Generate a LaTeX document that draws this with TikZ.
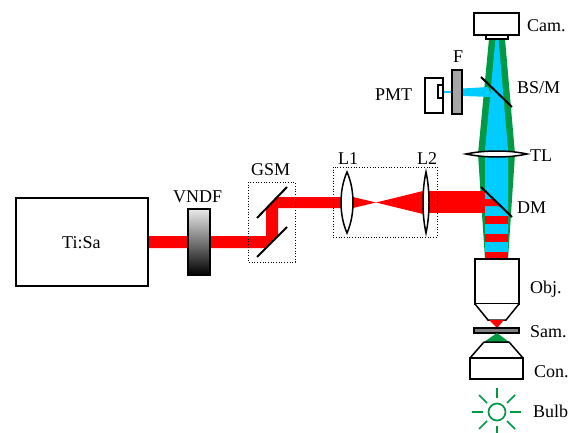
\documentclass[tikz,border=0pt]{standalone}
\usepackage{fontspec}
\setmainfont{Liberation Serif}
\definecolor{bgreen}{RGB}{0,153,68}
\definecolor{bblue}{RGB}{0,204,255}
\tikzset{
  lbl/.style={anchor=base west,inner sep=0pt,font=\fontsize{18}{18}\selectfont,text=black},
  part/.style={draw=black,line width=1.5pt,fill=white},
  mirror/.style={draw=black,line width=2pt},
  frame/.style={draw=black,line width=0.7pt,dotted},
  ray/.style={draw=bgreen,line width=1.7pt}
}
\begin{document}
\begin{tikzpicture}[x=1pt,y=-1pt]
\useasboundingbox (0,0) rectangle (575,433);
% beams
\fill[bgreen] (489,39) -- (505,39) -- (515,154) -- (508,259) -- (485,259) -- (478,154) -- cycle;
\fill[bblue] (495.5,39) -- (498.5,39) -- (508,150) -- (508,259) -- (485,259) -- (485,150) -- cycle;
\fill[bblue] (462,88.5) -- (488,87) -- (492,97) -- (462,96) -- cycle;
\fill[bblue] (443,91) rectangle (452,93);
\fill[red] (148,236) -- (266,236) -- (266,209) -- (278,197) -- (341,197) -- (341,208) -- (278,208) -- (278,236) -- (266,248) -- (148,248) -- cycle;
\fill[red] (353,197) -- (376,202.5) -- (423,191) -- (423,214) -- (376,202.5) -- (353,208) -- cycle;
\fill[red] (429,191) rectangle (485,213);
\fill[red] (485,199) -- (493,199) -- (500,206) -- (485,206) -- cycle;
\fill[red] (485,216) rectangle (508,224);
\fill[red] (485,234) rectangle (508,242);
\fill[red] (485,252) rectangle (508,259);
% frames
\draw[frame] (248,182) rectangle (295,262);
\draw[frame] (333,167) rectangle (437,237);
% laser and filter
\draw[part] (16,198) rectangle (148,286);
\shade[top color=black!8,bottom color=black] (188,209) rectangle (210,275);
\draw[black,line width=1.3pt] (188,209) rectangle (210,275);
% mirrors
\coordinate (gmA) at (257,257); \coordinate (gmB) at (287,227);
\coordinate (gmC) at (257,218); \coordinate (gmD) at (287,187);
\coordinate (dmA) at (481,187); \coordinate (dmB) at (512,217);
\coordinate (bsA) at (481,77);  \coordinate (bsB) at (512,107);
\draw[mirror] (gmA) -- (gmB);
\draw[mirror] (gmC) -- (gmD);
\draw[mirror] (dmA) -- (dmB);
\draw[mirror] (bsA) -- (bsB);
% lenses
\draw[part] (347,172) .. controls (339,190) and (339,215) .. (347,233) .. controls (355,215) and (355,190) .. (347,172) -- cycle;
\draw[part] (426,172) .. controls (422,190) and (422,215) .. (426,233) .. controls (430,215) and (430,190) .. (426,172) -- cycle;
\draw[part] (466,154) .. controls (485,150) and (509,150) .. (527,154) .. controls (509,158) and (485,158) .. (466,154) -- cycle;
% camera, filter, PMT
\draw[part] (474,13) rectangle (519,35);
\draw[part] (486,35) rectangle (508,39);
\draw[part,fill=black!35] (452,70) rectangle (462,114);
\draw[part] (425,78) rectangle (443,113);
\draw[part] (438,85) rectangle (443,98);
% objective
\draw[part] (475,259) rectangle (519,304);
\draw[part] (475,304) -- (488,320) -- (506,320) -- (519,304);
\fill[red] (489,320) -- (504,320) -- (497,328) -- cycle;
% sample
\draw[black,line width=1.2pt,fill=black!50] (474,328) rectangle (519,333);
% condenser
\fill[bgreen] (497,333) -- (509,342) -- (484,342) -- cycle;
\draw[part,fill=none] (484,342) -- (470,358) (509,342) -- (523,358) (484,342) -- (509,342);
\draw[part] (470,358) rectangle (523,379);
% bulb
\draw[ray] (497,412) circle (8.5);
\draw[ray] (497,388) -- (497,398);
\draw[ray] (497,426) -- (497,433);
\draw[ray] (472,412) -- (483,412);
\draw[ray] (510,412) -- (521,412);
\draw[ray] (479,395) -- (487,403);
\draw[ray] (515,395) -- (507,403);
\draw[ray] (479,429) -- (487,421);
\draw[ray] (515,429) -- (507,421);
% labels
\node[lbl] (tisa) at (62,248) {Ti:Sa};
\node[lbl] (vndf) at (173,202) {VNDF};
\node[lbl] (gsm) at (251,175) {GSM};
\node[lbl] (lone) at (338,164) {L1};
\node[lbl] (ltwo) at (417,164) {L2};
\node[lbl] (f) at (453,63) {F};
\node[lbl] (pmt) at (375,101) {PMT};
\node[lbl] (cam) at (527,32) {Cam.};
\node[lbl] (bsm) at (517,94) {BS/M};
\node[lbl] (tl) at (530,161) {TL};
\node[lbl] (dm) at (517,213) {DM};
\node[lbl] (obj) at (530,293) {Obj.};
\node[lbl] (sam) at (530,337) {Sam.};
\node[lbl] (con) at (534,377) {Con.};
\node[lbl] (bulb) at (533,417) {Bulb};
\end{tikzpicture}
\end{document}
